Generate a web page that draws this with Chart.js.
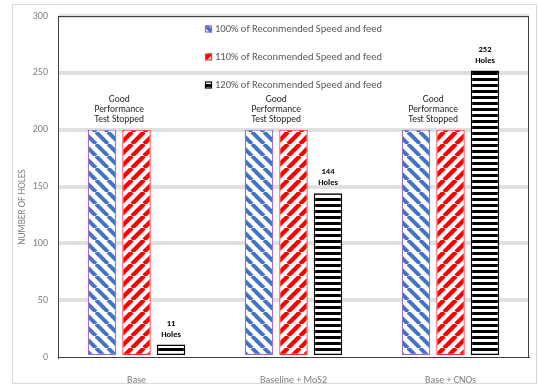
<!DOCTYPE html>
<html>
<head>
<meta charset="utf-8">
<script src="https://cdn.jsdelivr.net/npm/chart.js@4/dist/chart.umd.min.js"></script>
<style>
  html, body { margin: 0; padding: 0; background: #fff; }
  canvas { display: block; }
</style>
</head>
<body>
<canvas id="c" width="538" height="385"></canvas>
<script>
// ---- data ----
const categories = ['Base', 'Baseline + MoS2', 'Base + CNOs'];
const seriesNames = [
  '100% of Reconmended Speed and feed',
  '110% of Reconmended Speed and feed',
  '120% of Reconmended Speed and feed'
];
const speed100 = [200, 200, 200];
const speed110 = [200, 200, 200];
const speed120 = [11, 144, 252];
const yTicks = [0, 50, 100, 150, 200, 250, 300];
const noteLines = ['Good', 'Performance', 'Test Stopped'];
const holesWord = 'Holes';
const yTitle = 'NUMBER OF HOLES';

const FONT = 'Carlito, Lato, "Liberation Sans", sans-serif';

// ---- hatch fills ----
function diagonalFill(color, rising, width) {
  const s = 12;
  const c = document.createElement('canvas');
  c.width = s; c.height = s;
  const g = c.getContext('2d');
  g.fillStyle = '#fff';
  g.fillRect(0, 0, s, s);
  g.strokeStyle = color;
  g.lineWidth = width;
  g.beginPath();
  for (const x of [-s, 0, s]) {
    if (rising) { g.moveTo(x, s); g.lineTo(x + s, 0); }
    else { g.moveTo(x, 0); g.lineTo(x + s, s); }
  }
  g.stroke();
  return g.createPattern(c, 'repeat');
}
function stripeFill(color) {
  const c = document.createElement('canvas');
  c.width = 6; c.height = 6;
  const g = c.getContext('2d');
  g.fillStyle = '#fff';
  g.fillRect(0, 0, 6, 6);
  g.fillStyle = color;
  g.fillRect(0, 0, 6, 3);
  return g.createPattern(c, 'repeat');
}

const blueFill = diagonalFill('#4472C4', false, 4);
const redFill = diagonalFill('#FF0000', true, 4.3);
const blackFill = stripeFill('#000');

// ---- plugins ----
const frame = {
  id: 'frame',
  beforeDraw(chart) {
    const ctx = chart.ctx;
    ctx.save();
    ctx.fillStyle = '#fff';
    ctx.fillRect(0, 0, chart.width, chart.height);
    ctx.strokeStyle = '#d9d9d9';
    ctx.lineWidth = 1;
    ctx.strokeRect(12.5, 4.5, 524, 379);
    ctx.restore();
  },
  beforeDatasetsDraw(chart) {
    const a = chart.chartArea, ctx = chart.ctx;
    ctx.save();
    ctx.strokeStyle = '#404040';
    ctx.lineWidth = 1;
    ctx.strokeRect(Math.round(a.left) + 0.5, Math.round(a.top) + 0.5,
      Math.round(a.right - a.left) - 1, Math.round(a.bottom - a.top));
    // rotated axis title
    ctx.fillStyle = '#7f7f7f';
    ctx.font = '9.5px ' + FONT;
    ctx.textAlign = 'center';
    ctx.textBaseline = 'middle';
    ctx.translate(23, 207);
    ctx.rotate(-Math.PI / 2);
    ctx.fillText(yTitle, 0, 0);
    ctx.restore();
  }
};

const notes = {
  id: 'notes',
  afterDatasetsDraw(chart) {
    const ctx = chart.ctx;
    const m0 = chart.getDatasetMeta(0).data;
    const m1 = chart.getDatasetMeta(1).data;
    const m2 = chart.getDatasetMeta(2).data;
    ctx.save();
    ctx.textAlign = 'center';
    ctx.textBaseline = 'middle';
    ctx.fillStyle = '#262626';
    ctx.font = '9.5px ' + FONT;
    for (let i = 0; i < categories.length; i++) {
      const cx = (m0[i].x + m1[i].x) / 2;
      const top = Math.min(m0[i].y, m1[i].y);
      noteLines.forEach((t, k) => {
        ctx.fillText(t, cx, top - 10 - (noteLines.length - 1 - k) * 10);
      });
    }
    ctx.fillStyle = '#000';
    ctx.font = '600 8.5px ' + FONT;
    for (let i = 0; i < categories.length; i++) {
      const b = m2[i];
      ctx.fillText(String(speed120[i]), b.x, b.y - 21);
      ctx.fillText(holesWord, b.x, b.y - 10);
    }
    ctx.restore();
  }
};

const innerLegend = {
  id: 'innerLegend',
  afterDatasetsDraw(chart) {
    const a = chart.chartArea, ctx = chart.ctx;
    ctx.save();
    ctx.font = '10.5px ' + FONT;
    ctx.textBaseline = 'middle';
    ctx.textAlign = 'left';
    const textW = Math.max(...seriesNames.map(n => ctx.measureText(n).width));
    const total = 10 + textW;
    const x0 = Math.round((a.left + a.right) / 2 - total / 2);
    chart.data.datasets.forEach((ds, i) => {
      const y = Math.round(a.top + 13 + i * 28);
      ctx.fillStyle = ds.backgroundColor;
      ctx.fillRect(x0, y - 3.5, 7, 7);
      ctx.strokeStyle = ds.borderColor;
      ctx.lineWidth = 1.2;
      ctx.strokeRect(x0 + 0.5, y - 3, 6, 6);
      ctx.fillStyle = '#595959';
      ctx.fillText(ds.label, x0 + 10, y + 0.5);
    });
    ctx.restore();
  }
};

new Chart(document.getElementById('c'), {
  type: 'bar',
  data: {
    labels: categories,
    datasets: [
      { label: seriesNames[0], data: speed100, backgroundColor: blueFill, borderColor: '#9966CC', borderWidth: 1.2 },
      { label: seriesNames[1], data: speed110, backgroundColor: redFill, borderColor: '#FF3333', borderWidth: 1.2 },
      { label: seriesNames[2], data: speed120, backgroundColor: blackFill, borderColor: '#000000', borderWidth: 1.5 }
    ]
  },
  options: {
    responsive: false,
    animation: false,
    devicePixelRatio: 1,
    layout: { padding: { left: 0, right: 9, top: 15, bottom: 0 } },
    datasets: {
      bar: { categoryPercentage: 0.659, barPercentage: 0.826, borderSkipped: false }
    },
    plugins: {
      legend: { display: false },
      tooltip: { enabled: false }
    },
    scales: {
      x: {
        grid: { display: false },
        border: { display: true, color: '#404040', width: 1 },
        ticks: { color: '#7f7f7f', font: { family: FONT, size: 10 }, padding: 9 },
        afterFit(scale) { scale.height = 28; }
      },
      y: {
        min: 0,
        max: 300,
        afterBuildTicks(scale) { scale.ticks = yTicks.map(v => ({ value: v })); },
        grid: {
          drawTicks: false,
          lineWidth: 4,
          color: ctx => (ctx.tick && ctx.tick.value === 0) ? 'rgba(0,0,0,0)' : '#e0e0e0'
        },
        border: { display: true, color: '#404040', width: 1 },
        ticks: { color: '#7f7f7f', font: { family: FONT, size: 10 }, padding: 10 },
        afterFit(scale) { scale.width = 58; }
      }
    }
  },
  plugins: [frame, notes, innerLegend]
});
</script>
</body>
</html>
